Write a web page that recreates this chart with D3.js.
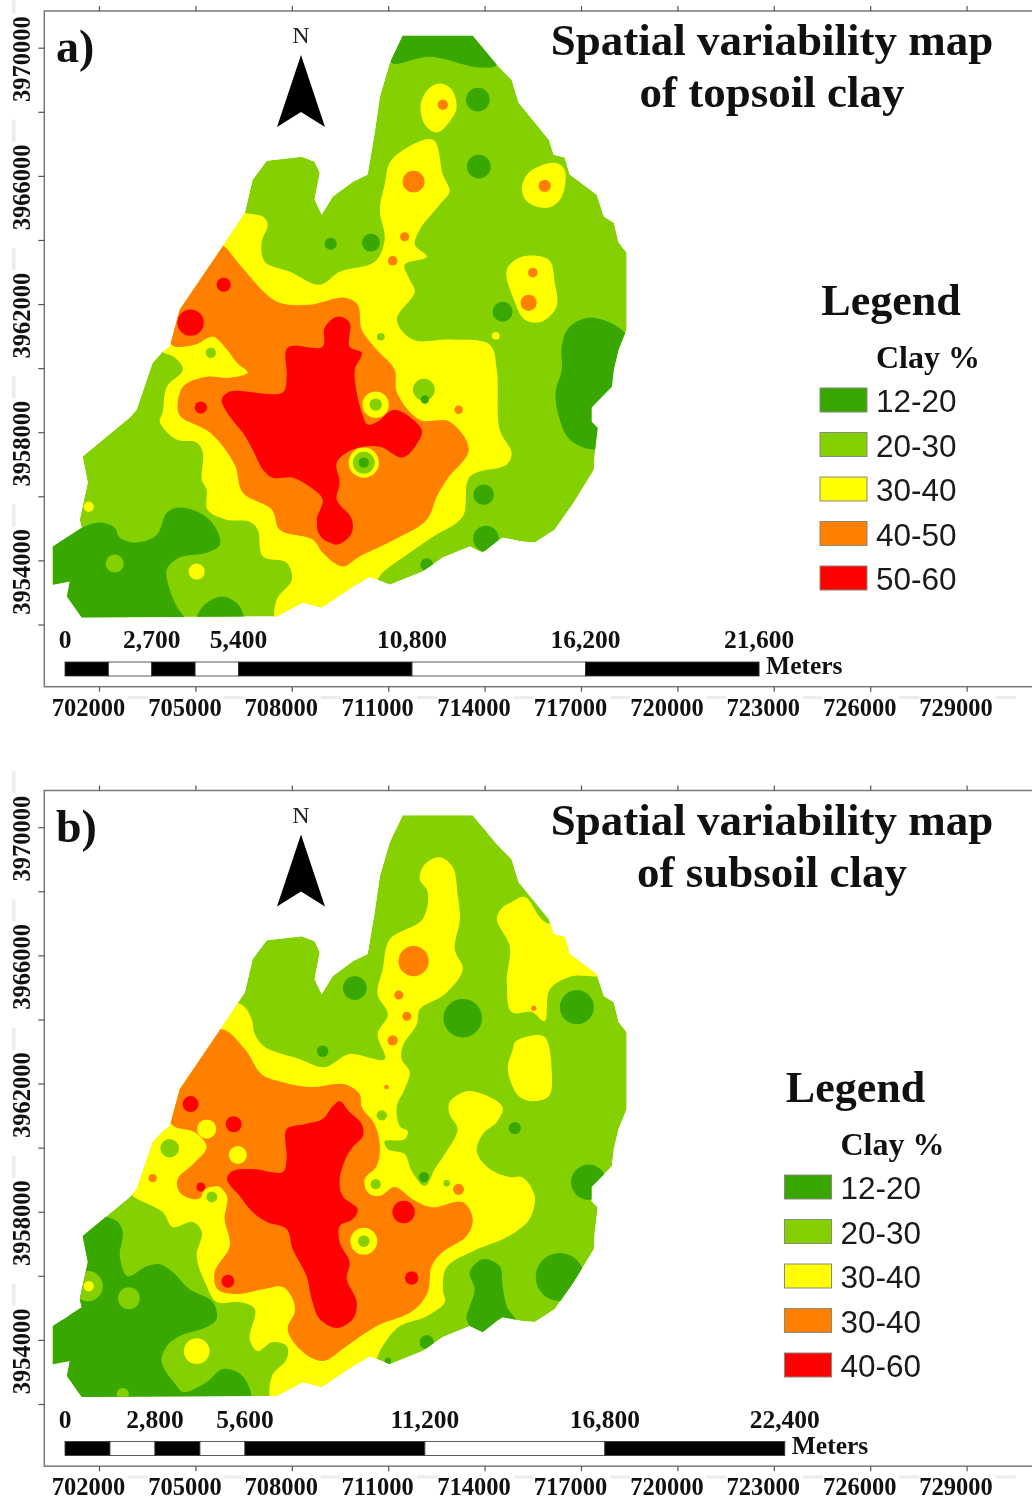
<!DOCTYPE html>
<html>
<head>
<meta charset="utf-8">
<script src="https://cdn.jsdelivr.net/npm/d3@7"></script>
<style>
  html, body { margin: 0; padding: 0; background: #fff; }
  svg { display: block; filter: blur(0.45px); }
</style>
</head>
<body>
<div id="chart"></div>
<script>
// map coordinates below are [km east of 700000, km north of 3950000]
const xTicks = [702000, 705000, 708000, 711000, 714000, 717000, 720000, 723000, 726000, 729000];
const yTicks = [3970000, 3968000, 3966000, 3964000, 3962000, 3960000, 3958000, 3956000, 3954000, 3952000];
const yLabels = [3970000, 3966000, 3962000, 3958000, 3954000];

const legendTitle = "Clay %";
const classesA = ["12-20", "20-30", "30-40", "40-50", "50-60"];
const classesB = ["12-20", "20-30", "30-40", "30-40", "40-60"];
const classColors = ["#38a800", "#85d000", "#ffff00", "#ff7f00", "#ff0000"];

const barBreaksA = [0, 1350, 2700, 4050, 5400, 10800, 16200, 21600];
const barLabelsA = [0, 2700, 5400, 10800, 16200, 21600];
const barBreaksB = [0, 1400, 2800, 4200, 5600, 11200, 16800, 22400];
const barLabelsB = [0, 2800, 5600, 11200, 16800, 22400];

const boundary = [[11.45,20.37],[13.63,20.37],[14.38,19.47],[14.84,19.00],[15.06,18.28],[16.00,17.13],[16.15,16.66],[16.49,16.57],[16.65,16.04],[17.49,15.41],[17.71,14.73],[18.02,14.54],[18.17,13.92],[18.42,13.60],[18.42,11.20],[18.17,10.58],[18.02,9.95],[17.96,9.42],[17.33,8.77],[17.33,8.33],[17.52,8.14],[17.43,7.36],[17.40,6.83],[16.77,5.80],[16.18,4.96],[15.56,4.56],[15.16,4.59],[14.56,4.71],[14.38,4.59],[13.94,4.24],[13.54,4.43],[12.70,4.09],[12.07,3.65],[11.05,3.24],[10.43,3.49],[9.90,3.18],[8.93,2.53],[8.34,2.68],[7.53,2.25],[1.46,2.22],[1.00,2.87],[1.09,3.34],[0.56,3.24],[0.56,4.43],[1.46,5.02],[1.40,5.27],[1.65,6.43],[1.49,7.24],[2.96,8.46],[3.17,8.70],[3.67,10.17],[3.98,10.51],[4.20,10.67],[4.51,11.82],[5.82,13.76],[6.54,14.85],[6.78,15.88],[7.22,16.47],[8.31,16.60],[8.71,16.44],[8.87,16.10],[8.71,15.26],[8.93,14.79],[9.27,15.35],[9.90,15.82],[10.36,16.04],[10.58,17.35],[10.74,18.47],[11.05,19.53]];

// topsoil regions, painted in this order: [class index, outline]
const topsoilRegions = [
  [0, [[11.11,19.53],[12.29,19.72],[13.85,19.38],[14.38,19.47],[13.63,20.55],[11.45,20.55]]],
  [2, [[6.54,14.85],[7.10,14.73],[7.25,14.48],[7.06,13.92],[7.16,13.32],[7.94,13.01],[8.87,12.60],[9.49,13.01],[10.58,13.32],[10.89,14.01],[10.74,14.94],[10.89,15.72],[11.11,16.50],[12.39,17.13],[12.70,16.04],[12.91,15.51],[12.60,15.10],[11.98,14.32],[11.83,13.85],[12.20,13.48],[11.51,13.23],[11.67,12.76],[11.83,12.39],[11.27,11.51],[11.76,10.89],[12.91,10.89],[14.16,10.73],[14.38,9.95],[14.47,8.08],[14.84,7.36],[14.69,6.99],[13.54,6.61],[13.32,5.37],[12.39,4.74],[11.67,4.24],[10.83,3.62],[10.43,3.09],[8.93,2.31],[7.53,2.00],[7.53,2.78],[8.00,3.40],[7.84,3.93],[7.10,4.12],[6.94,4.96],[6.69,5.21],[5.98,5.27],[5.38,5.58],[5.35,6.21],[5.20,6.52],[5.23,7.36],[5.04,7.68],[4.42,7.77],[3.89,8.33],[3.98,8.61],[4.11,9.42],[4.61,9.95],[4.36,10.33],[3.98,10.51],[3.89,10.73],[5.69,14.01],[6.32,15.01]]],
  [3, [[5.69,13.88],[6.38,13.23],[7.06,12.45],[7.62,12.04],[8.56,11.98],[9.65,12.20],[10.05,11.98],[10.18,11.20],[10.64,10.58],[11.20,9.95],[11.27,9.24],[11.98,8.39],[12.91,8.33],[13.51,7.46],[12.82,6.52],[12.51,5.99],[12.20,5.27],[11.20,4.65],[10.11,4.12],[9.58,3.81],[8.96,4.24],[8.65,4.65],[7.62,4.96],[7.38,5.58],[6.47,6.12],[6.22,6.99],[5.45,7.99],[4.57,8.46],[4.45,8.70],[4.61,9.42],[5.35,9.73],[6.07,9.70],[6.63,9.86],[6.29,10.17],[5.98,10.58],[5.54,10.98],[4.98,10.73],[4.26,10.73],[4.36,11.82]]],
  [4, [[5.82,9.02],[6.07,9.27],[7.72,9.24],[7.84,9.73],[7.87,10.64],[8.96,10.67],[9.02,11.26],[9.43,11.61],[9.80,11.42],[9.80,10.67],[10.18,10.48],[9.96,9.95],[10.02,9.24],[10.18,8.61],[10.36,8.24],[10.67,8.33],[11.20,8.70],[12.04,8.08],[11.92,7.68],[11.45,7.21],[10.74,7.55],[9.90,7.46],[9.40,7.05],[9.49,6.43],[9.40,5.90],[9.80,5.37],[9.87,4.87],[9.40,4.49],[8.93,4.80],[8.78,5.27],[8.96,5.90],[8.56,6.30],[8.03,6.58],[7.41,6.58],[7.10,6.83],[6.78,7.46],[6.47,7.99],[6.07,8.49]]],
  [0, [[16.40,10.67],[16.40,9.95],[16.21,9.24],[16.31,8.49],[16.65,7.77],[17.43,7.46],[17.89,7.77],[18.52,10.89],[17.33,11.58],[16.62,11.26]]],
  [0, [[0.31,4.34],[1.46,5.02],[2.02,5.18],[2.49,5.02],[2.65,4.71],[3.17,4.56],[3.80,4.80],[4.11,5.49],[4.51,5.65],[5.23,5.43],[5.66,4.96],[5.76,4.49],[5.35,4.24],[4.51,4.09],[4.11,3.71],[4.20,3.09],[4.42,2.56],[4.73,2.00],[1.24,2.00],[0.31,2.78]]],
  [0, [[5.04,2.00],[5.23,2.56],[5.85,2.87],[6.38,2.56],[6.47,2.00]]],
  [2, [[12.01,18.22],[12.23,18.69],[12.60,18.88],[12.98,18.69],[13.13,18.13],[12.91,17.69],[12.51,17.35],[12.14,17.60]]],
  [2, [[15.16,15.57],[15.37,16.10],[16.18,16.41],[16.49,16.19],[16.40,15.35],[16.00,15.01],[15.37,15.16]]],
  [2, [[14.69,13.07],[15.16,13.48],[16.00,13.38],[16.18,12.67],[16.24,11.92],[15.78,11.45],[15.25,11.51],[14.91,12.14]]]
];

// topsoil spots: [east km, north km, radius km, class index]
const topsoilSpots = [
  [12.70,18.22,0.16,3],[13.79,18.38,0.37,0],[13.82,16.29,0.37,0],[11.79,15.82,0.34,3],[11.51,14.10,0.14,3],
  [11.14,13.35,0.15,3],[9.21,13.88,0.19,0],[10.46,13.92,0.28,0],[15.87,15.69,0.19,3],[15.50,12.98,0.15,3],
  [15.37,12.04,0.25,3],[14.56,11.76,0.31,0],[14.35,11.01,0.12,2],[10.77,10.98,0.12,1],[5.88,12.60,0.22,4],
  [4.85,11.42,0.41,4],[5.17,8.77,0.19,4],[5.41,10.48,0.34,2],[5.48,10.48,0.16,1],[13.19,8.70,0.13,3],
  [12.11,9.33,0.34,1],[12.14,9.02,0.13,0],[9.34,5.09,0.56,4],[10.61,8.86,0.41,2],[10.61,8.86,0.19,1],[10.24,7.05,0.47,2],
  [10.24,7.05,0.34,1],[10.24,7.05,0.16,0],[13.97,6.05,0.32,0],[14.04,4.68,0.40,0],[12.20,3.87,0.20,0],
  [2.49,3.90,0.28,1],[5.04,3.65,0.25,2],[1.68,5.68,0.16,2]
];

const subsoilRegions = [
  [2, [[6.26,14.51],[6.54,14.38],[6.75,14.01],[6.85,13.54],[7.16,13.14],[8.25,12.76],[9.02,12.51],[9.80,12.92],[10.89,12.76],[10.67,13.54],[10.99,14.16],[10.67,14.79],[10.83,15.57],[11.05,16.50],[12.07,17.13],[12.23,17.97],[11.98,18.38],[12.14,18.84],[12.60,19.06],[13.01,18.75],[13.16,17.91],[13.23,17.13],[13.07,16.19],[13.32,15.57],[12.76,14.79],[11.98,14.32],[11.89,13.85],[11.45,13.17],[11.42,12.76],[11.67,12.36],[11.51,11.82],[11.27,11.29],[11.36,10.67],[11.61,10.51],[11.51,10.26],[10.89,10.20],[10.99,9.95],[11.51,9.80],[11.73,9.27],[12.14,8.80],[12.45,9.33],[12.76,9.80],[13.16,10.58],[12.91,11.04],[12.91,11.42],[13.44,11.76],[13.94,11.67],[14.56,11.26],[14.38,10.80],[13.94,10.42],[13.76,9.86],[14.16,9.33],[14.78,9.08],[15.16,9.08],[15.56,8.49],[15.40,7.77],[15.09,7.46],[14.56,7.14],[13.63,6.77],[12.82,6.27],[12.70,5.58],[12.76,5.18],[12.20,4.74],[11.36,4.43],[10.83,3.81],[10.43,3.09],[8.93,2.31],[7.41,2.00],[7.38,2.87],[7.84,3.40],[7.84,3.81],[7.38,3.93],[6.94,3.65],[6.69,4.02],[6.85,4.96],[6.38,5.18],[5.66,5.18],[5.35,5.68],[5.04,6.61],[5.20,7.36],[4.92,7.68],[4.29,7.52],[3.98,7.99],[3.05,8.49],[2.80,8.86],[4.05,11.04],[5.60,13.85]]],
  [3, [[5.76,13.70],[6.54,13.07],[7.06,12.29],[7.72,12.04],[8.56,11.89],[9.65,11.98],[10.11,11.67],[10.18,11.26],[10.58,10.73],[10.74,10.05],[10.64,9.42],[10.27,9.02],[10.36,8.61],[10.74,8.49],[11.20,8.77],[11.76,8.39],[12.35,8.14],[13.32,8.30],[13.63,7.77],[13.44,7.24],[12.70,6.74],[12.35,6.30],[12.23,5.49],[11.76,4.90],[10.64,4.43],[9.71,3.81],[8.96,3.34],[8.25,3.71],[7.87,4.34],[8.09,4.87],[8.03,5.27],[7.72,5.65],[7.10,5.58],[6.29,5.43],[5.69,5.58],[5.60,6.12],[6.07,6.93],[5.91,7.77],[5.98,8.49],[5.66,8.80],[5.04,8.39],[4.51,8.61],[4.45,9.02],[4.92,9.48],[5.35,10.02],[4.98,10.48],[4.26,10.73],[4.36,11.82]]],
  [4, [[9.49,11.45],[9.80,11.11],[10.18,10.73],[10.21,10.36],[9.90,10.02],[9.71,9.73],[9.49,9.02],[9.58,8.49],[10.05,8.08],[9.90,7.77],[9.49,7.55],[9.49,7.05],[9.80,6.43],[9.71,5.90],[10.02,5.18],[9.90,4.65],[9.40,4.37],[8.87,4.65],[8.62,5.27],[8.46,5.99],[8.03,6.83],[7.84,7.46],[7.22,7.68],[6.78,7.99],[6.38,8.49],[5.98,9.02],[6.16,9.27],[6.78,9.33],[7.72,9.24],[7.84,9.64],[7.84,10.58],[8.40,10.73],[8.96,10.89],[9.27,11.29]]],
  [0, [[0.31,4.34],[1.09,4.80],[1.24,6.52],[1.49,7.36],[2.02,7.83],[2.55,7.71],[2.74,7.36],[2.65,6.61],[2.89,5.99],[3.49,6.30],[3.89,6.36],[4.29,6.12],[4.82,5.58],[5.54,5.18],[5.66,4.65],[5.35,4.40],[4.51,4.12],[4.11,3.81],[3.95,3.31],[4.42,2.56],[4.61,2.37],[5.35,2.68],[5.85,3.09],[6.47,2.87],[6.69,2.00],[1.24,2.00],[0.31,2.78]]],
  [0, [[13.54,6.12],[13.94,6.52],[14.47,6.30],[14.56,5.68],[14.69,5.05],[15.00,4.49],[13.94,4.02],[13.44,4.65],[13.54,5.05],[13.69,5.58]]],
  [2, [[14.84,17.66],[15.25,17.82],[15.87,17.04],[16.80,16.82],[17.74,15.41],[16.71,15.35],[16.03,14.94],[15.87,13.95],[15.47,14.23],[14.84,14.23],[14.69,15.16],[14.78,16.29],[14.38,17.13],[14.56,17.50]]],
  [2, [[14.94,13.29],[15.37,13.48],[15.87,13.45],[16.09,12.36],[16.00,11.61],[15.47,11.45],[15.06,11.61],[14.72,12.45],[14.88,13.07]]]
];

const subsoilSpots = [
  [11.79,15.82,0.47,3],[11.33,14.76,0.14,3],[11.58,14.10,0.14,3],[11.14,13.35,0.16,3],[10.95,11.89,0.07,3],
  [9.96,14.98,0.37,0],[13.32,14.04,0.60,0],[8.96,13.01,0.18,0],[4.85,11.36,0.25,4],[6.19,10.73,0.25,4],
  [5.35,10.58,0.30,2],[6.32,9.77,0.28,2],[15.53,14.35,0.08,3],[16.87,14.38,0.53,0],[17.24,8.92,0.55,0],
  [16.34,5.96,0.75,0],[14.94,10.61,0.19,0],[4.20,9.98,0.29,1],[3.67,9.05,0.13,3],[5.17,8.77,0.14,4],
  [5.51,8.46,0.32,2],[5.51,8.46,0.17,1],[10.24,7.08,0.42,2],[10.24,7.08,0.18,1],[10.61,8.86,0.16,1],
  [11.48,7.99,0.35,4],[11.73,5.93,0.21,4],[6.01,5.83,0.20,4],[13.19,8.70,0.17,3],[12.82,8.89,0.10,1],
  [12.11,9.08,0.16,0],[10.80,11.01,0.16,1],[12.20,3.93,0.22,0],[10.99,3.34,0.10,0],[5.04,3.65,0.40,2],
  [1.65,5.68,0.47,1],[1.68,5.68,0.16,2],[2.93,5.30,0.34,1],[2.74,2.31,0.19,1]
];

const serif = "'Liberation Serif', 'Times New Roman', serif";
const sans = "'Liberation Sans', Arial, sans-serif";

const x = d3.scaleLinear().domain([702000, 729000]).range([99, 966.6]);
const y = d3.scaleLinear().domain([3970000, 3954000]).range([47.7, 560.4]);
const kmToPx = x(703000) - x(702000);
const barOrigin = x.invert(65);
const color = d3.scaleOrdinal().domain(d3.range(5)).range(classColors);

const smooth = d3.line()
  .x((d) => x(700000 + d[0] * 1000))
  .y((d) => y(3950000 + d[1] * 1000))
  .curve(d3.curveCatmullRomClosed.alpha(0.5));
const edge = d3.line()
  .x((d) => x(700000 + d[0] * 1000))
  .y((d) => y(3950000 + d[1] * 1000))
  .curve(d3.curveLinearClosed);

const svg = d3.select("#chart").append("svg").attr("width", 1032).attr("height", 1498);

const drawPanel = (opt) => {
  const g = svg.append("g").attr("transform", "translate(0," + opt.dy + ")");

  g.append("clipPath").attr("id", "clip-" + opt.id)
    .append("path").attr("d", edge(boundary));

  // frame and ticks
  g.append("rect")
    .attr("x", 44.3).attr("y", 11).attr("width", 1100).attr("height", 675.7)
    .attr("fill", "none").attr("stroke", "#777").attr("stroke-width", 1.5);

  const bottom = g.append("g").attr("transform", "translate(0,686.7)")
    .call(d3.axisBottom(x).tickValues(xTicks).tickSize(5).tickFormat(d3.format("d")));
  bottom.selectAll("text")
    .attr("dx", -11).attr("y", 29).attr("dy", 0)
    .style("font", "bold 24.5px " + serif).attr("fill", "#111");
  g.append("g").attr("transform", "translate(0,11)")
    .call(d3.axisTop(x).tickValues(xTicks).tickSize(5).tickFormat(""));
  const left = g.append("g").attr("transform", "translate(44.3,0)")
    .call(d3.axisLeft(y).tickValues(yTicks).tickSize(6)
      .tickFormat((d) => (yLabels.includes(d) ? d3.format("d")(d) : "")));
  left.selectAll("text")
    .attr("transform", "rotate(-90)")
    .attr("text-anchor", "middle")
    .attr("x", -11).attr("y", -14.5).attr("dy", 0)
    .style("font", "bold 24.5px " + serif).attr("fill", "#111");
  g.selectAll(".domain").remove();
  g.selectAll(".tick line").attr("stroke", "#555").attr("stroke-width", 1.2);

  // faint squeezed labels between the real ones
  g.append("g").selectAll("rect").data(xTicks).enter().append("rect")
    .attr("x", (d) => x(d + 900)).attr("y", 696).attr("width", 20).attr("height", 3)
    .attr("fill", "#ececec");
  g.append("g").selectAll("rect").data(yLabels).enter().append("rect")
    .attr("x", 12).attr("y", (d) => y(d + 1000) - 24).attr("width", 3.5).attr("height", 22)
    .attr("fill", "#ececec");

  // map
  const map = g.append("g").attr("clip-path", "url(#clip-" + opt.id + ")");
  map.append("path")
    .attr("d", edge(boundary))
    .attr("fill", color(1));
  map.selectAll(".region").data(opt.regions).enter().append("path")
    .attr("class", "region")
    .attr("d", (d) => smooth(d[1]))
    .attr("fill", (d) => color(d[0]));
  map.selectAll(".spot").data(opt.spots).enter().append("circle")
    .attr("class", "spot")
    .attr("cx", (d) => x(700000 + d[0] * 1000))
    .attr("cy", (d) => y(3950000 + d[1] * 1000))
    .attr("r", (d) => d[2] * kmToPx)
    .attr("fill", (d) => color(d[3]));

  // panel letter and title
  g.append("text").attr("x", 56).attr("y", 62).text(opt.letter)
    .style("font", "bold 46px " + serif).attr("fill", "#111");
  g.append("text").attr("x", 772).attr("y", 55).attr("text-anchor", "middle")
    .text("Spatial variability map")
    .style("font", "bold 45px " + serif).attr("fill", "#111");
  g.append("text").attr("x", 772).attr("y", 107).attr("text-anchor", "middle")
    .text(opt.title)
    .style("font", "bold 45px " + serif).attr("fill", "#111");

  // north arrow
  g.append("text").attr("x", 301).attr("y", 43).attr("text-anchor", "middle").text("N")
    .style("font", "24px " + serif).attr("fill", "#222");
  g.append("path").attr("d", "M301,55L325,127L301,112L277,127Z").attr("fill", "#000");

  // scale bar
  const barX = (m) => x(barOrigin + m);
  g.selectAll(".bar").data(d3.pairs(opt.barBreaks)).enter().append("rect")
    .attr("class", "bar")
    .attr("x", (d) => barX(d[0]))
    .attr("y", 662)
    .attr("width", (d) => barX(d[1]) - barX(d[0]))
    .attr("height", 14)
    .attr("fill", (d, i) => (i % 2 ? "#fff" : "#000"))
    .attr("stroke", "#333").attr("stroke-width", 0.8);
  g.selectAll(".barlabel").data(opt.barLabels).enter().append("text")
    .attr("class", "barlabel")
    .attr("x", (d) => barX(d)).attr("y", 648).attr("text-anchor", "middle")
    .text(d3.format(","))
    .style("font", "bold 25.5px " + serif).attr("fill", "#111");
  g.append("text")
    .attr("x", barX(opt.barBreaks[opt.barBreaks.length - 1]) + 7).attr("y", 674).text("Meters")
    .style("font", "bold 25.5px " + serif).attr("fill", "#111");

  // legend
  const lx = opt.legendX;
  const ly = opt.legendY;
  g.append("text").attr("x", lx + 71).attr("y", ly - 73).attr("text-anchor", "middle").text("Legend")
    .style("font", "bold 44px " + serif).attr("fill", "#111");
  g.append("text").attr("x", lx + 108).attr("y", ly - 20).attr("text-anchor", "middle").text(legendTitle)
    .style("font", "bold 32px " + serif).attr("fill", "#111");
  const rows = g.selectAll(".legend").data(opt.classes).enter().append("g")
    .attr("class", "legend")
    .attr("transform", (d, i) => "translate(" + lx + "," + (ly + i * 44.5) + ")");
  rows.append("rect").attr("width", 47).attr("height", 24)
    .attr("fill", (d, i) => color(i)).attr("stroke", "#8a8a7a").attr("stroke-width", 1);
  rows.append("text").attr("x", 56).attr("y", 24).text((d) => d)
    .style("font", "31.5px " + sans).attr("fill", "#1a1a1a");
};

drawPanel({
  id: "a", dy: 0, letter: "a)", title: "of topsoil clay",
  regions: topsoilRegions, spots: topsoilSpots,
  barBreaks: barBreaksA, barLabels: barLabelsA,
  classes: classesA, legendX: 820, legendY: 388
});
drawPanel({
  id: "b", dy: 779.5, letter: "b)", title: "of subsoil clay",
  regions: subsoilRegions, spots: subsoilSpots,
  barBreaks: barBreaksB, barLabels: barLabelsB,
  classes: classesB, legendX: 784.5, legendY: 395.5
});
</script>
</body>
</html>
